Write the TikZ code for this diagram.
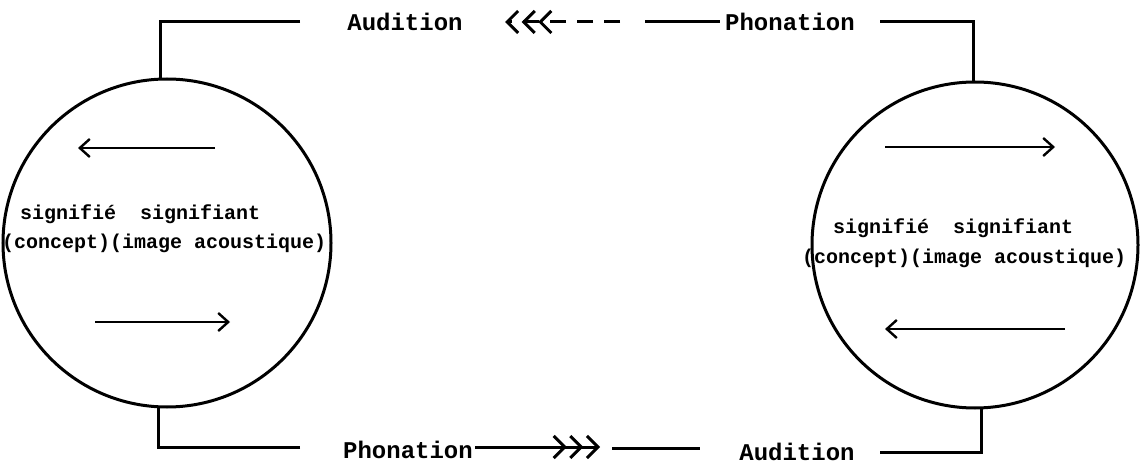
\documentclass[tikz,border=0pt]{standalone}
\usepackage{fontspec}
\setmonofont{Liberation Mono}
\usetikzlibrary{arrows.meta}
\tikzset{
  ln/.style={line width=3pt},
  lbl/.style={inner sep=0pt, font=\ttfamily\bfseries\fontsize{24}{26}\selectfont},
  ctext/.style={inner sep=0pt, anchor=west, font=\ttfamily\bfseries\fontsize{20}{22}\selectfont},
  globe/.style={circle, draw, line width=3pt, inner sep=0pt},
  inarrow/.style={line width=2.4pt, -{Straight Barb[length=10pt,width=18pt,line width=2.4pt]}},
  triple/.style={-{Straight Barb[length=11pt,width=22pt,sep=2pt]Straight Barb[length=11pt,width=22pt,sep=2pt]Straight Barb[length=11pt,width=22pt]}}
}
\begin{document}
\begin{tikzpicture}[x=1pt,y=-1pt]
\useasboundingbox (0,0) rectangle (1141,465);
% circles
\node[globe, minimum size=328pt] (cL) at (167,243) {};
\node[globe, minimum size=326pt] (cR) at (975,245) {};
% labels
\node[lbl] (audL) at (405,22) {Audition};
\node[lbl] (phonR) at (790,22) {Phonation};
\node[lbl] (phonL) at (408,450) {Phonation};
\node[lbl] (audR) at (797,452) {Audition};
% circle texts
\node[ctext] (sL) at (20,214) {signifié\ \ signifiant};
\node[ctext] (cLt) at (2,243) {(concept)(image acoustique)};
\node[ctext] (sR) at (833,228) {signifié\ \ signifiant};
\node[ctext] (cRt) at (802,258) {(concept)(image acoustique)};
% coordinates
\coordinate (tl1) at (300,22);
\coordinate (tlc) at (160,80);
\coordinate (tr1) at (880,22);
\coordinate (trc) at (973,83);
\coordinate (bl1) at (300,447);
\coordinate (blc) at (158,406);
\coordinate (br1) at (880,452);
\coordinate (brc) at (981,407);
\coordinate (da) at (620,22);
\coordinate (db) at (505,22);
\coordinate (sa) at (645,22);
\coordinate (sb) at (720,22);
\coordinate (pa) at (475,447);
\coordinate (pb) at (600,447);
\coordinate (qa) at (612,448);
\coordinate (qb) at (700,448);
% outer connectors
\draw[ln] (tl1) -| (tlc);
\draw[ln] (tr1) -| (trc);
\draw[ln] (bl1) -| (blc);
\draw[ln] (br1) -| (brc);
\draw[ln, dash pattern=on 16pt off 11pt, triple] (da) -- (db);
\draw[ln] (sa) -- (sb);
\draw[ln, triple] (pa) -- (pb);
\draw[ln] (qa) -- (qb);
% inner arrows
\coordinate (a1s) at (215,148); \coordinate (a1e) at (78,148);
\coordinate (a2s) at (95,322); \coordinate (a2e) at (230,322);
\coordinate (a3s) at (885,147); \coordinate (a3e) at (1055,147);
\coordinate (a4s) at (1065,329); \coordinate (a4e) at (885,329);
\draw[inarrow] (a1s) -- (a1e);
\draw[inarrow] (a2s) -- (a2e);
\draw[inarrow] (a3s) -- (a3e);
\draw[inarrow] (a4s) -- (a4e);
\end{tikzpicture}
\end{document}
